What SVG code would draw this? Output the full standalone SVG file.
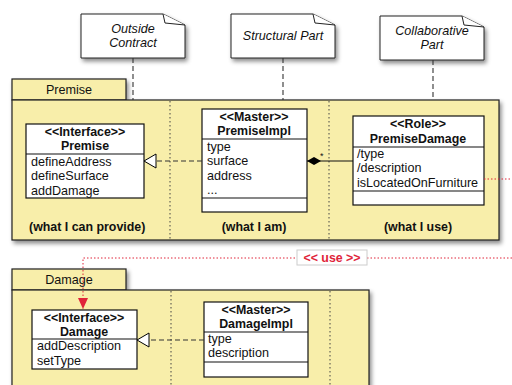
<svg xmlns="http://www.w3.org/2000/svg" width="512" height="385" viewBox="0 0 512 385">
  <defs>
    <filter id="shadow" x="-10%" y="-10%" width="125%" height="130%">
      <feDropShadow dx="2" dy="3" stdDeviation="2" flood-color="#000" flood-opacity="0.45"/>
    </filter>
    <marker id="realize" markerWidth="14" markerHeight="16" refX="13" refY="8" orient="auto" markerUnits="userSpaceOnUse">
      <path d="M1,1 L13,8 L1,15 Z" fill="#fff" stroke="#000" stroke-width="1"/>
    </marker>
    <marker id="diamond" markerWidth="16" markerHeight="10" refX="15" refY="5" orient="auto" markerUnits="userSpaceOnUse">
      <path d="M1,5 L8,1 L15,5 L8,9 Z" fill="#000"/>
    </marker>
    <marker id="redArrow" markerWidth="10" markerHeight="12" refX="5" refY="11" orient="0" markerUnits="userSpaceOnUse">
      <path d="M0,0 L10,0 L5,11 Z" fill="#e0243a"/>
    </marker>
  </defs>
  <style>
    text { font-family: "Liberation Sans", Arial, sans-serif; font-size: 12.6px; fill: #111; }
    .b { font-weight: bold; font-size: 12.4px; }
    .c { text-anchor: middle; }
    .i { font-style: italic; }
    .pkg { fill: #f8eeaa; stroke: #222; stroke-width: 1.2; }
    .box { fill: #fff; stroke: #111; stroke-width: 1.2; }
    .note { fill: #fff; stroke: #222; stroke-width: 1; }
    .div { stroke: #444; stroke-width: 1; stroke-dasharray: 1.5 2.5; fill: none; }
    .anchor { stroke: #333; stroke-width: 1.1; stroke-dasharray: 5 3; fill: none; }
    .line { stroke: #111; stroke-width: 1.2; fill: none; }
    .red { stroke: #e0243a; stroke-width: 1; stroke-dasharray: 1.5 2; fill: none; }
  </style>

  <!-- Package: Premise -->
  <g id="pkg-premise">
    <g filter="url(#shadow)">
      <rect class="pkg" x="12" y="79" width="114" height="21"/>
      <rect class="pkg" x="12" y="100" width="487" height="140"/>
    </g>
    <text class="c" x="69" y="94">Premise</text>
    <line class="div" x1="170" y1="101" x2="170" y2="239"/>
    <line class="div" x1="329" y1="101" x2="329" y2="239"/>
    <text class="b" x="29" y="231">(what I can provide)</text>
    <text class="b c" x="254" y="231">(what I am)</text>
    <text class="b c" x="418" y="231">(what I use)</text>
  </g>

  <!-- Package: Damage -->
  <g id="pkg-damage">
    <g filter="url(#shadow)">
      <rect class="pkg" x="12" y="269" width="114" height="21"/>
      <rect class="pkg" x="12" y="290" width="357" height="100"/>
    </g>
    <text class="c" x="69" y="284">Damage</text>
    <line class="div" x1="171" y1="291" x2="171" y2="385"/>
    <line class="div" x1="330" y1="291" x2="330" y2="385"/>
  </g>

  <!-- Notes -->
  <g id="note-outside">
    <path class="note" filter="url(#shadow)" d="M81,14 L163,14 L185,25 L185,58 L81,58 Z"/>
    <path class="note" d="M163,14 L165,23 L185,25"/>
    <text class="c i" x="133" y="33">Outside</text>
    <text class="c i" x="133" y="47">Contract</text>
  </g>
  <g id="note-structural">
    <path class="note" filter="url(#shadow)" d="M231,14 L313,14 L335,25 L335,58 L231,58 Z"/>
    <path class="note" d="M313,14 L315,23 L335,25"/>
    <text class="c i" x="283" y="40">Structural Part</text>
  </g>
  <g id="note-collaborative">
    <path class="note" filter="url(#shadow)" d="M380,16 L462,16 L484,27 L484,60 L380,60 Z"/>
    <path class="note" d="M462,16 L464,25 L484,27"/>
    <text class="c i" x="432" y="35">Collaborative</text>
    <text class="c i" x="432" y="49">Part</text>
  </g>

  <!-- Class: Premise interface -->
  <g id="premise">
    <rect class="box" x="26" y="124" width="118" height="74"/>
    <line class="line" x1="26" y1="154" x2="144" y2="154"/>
    <text class="b c" x="85" y="136">&lt;&lt;Interface&gt;&gt;</text>
    <text class="b c" x="85" y="150">Premise</text>
    <text x="31" y="166">defineAddress</text>
    <text x="31" y="180">defineSurface</text>
    <text x="31" y="195">addDamage</text>
  </g>

  <!-- Class: PremiseImpl -->
  <g id="premise-impl">
    <rect class="box" x="202" y="109" width="105" height="103"/>
    <line class="line" x1="202" y1="139" x2="307" y2="139"/>
    <line class="line" x1="202" y1="198" x2="307" y2="198"/>
    <text class="b c" x="254" y="121">&lt;&lt;Master&gt;&gt;</text>
    <text class="b c" x="254" y="135">PremiseImpl</text>
    <text x="207" y="151">type</text>
    <text x="207" y="165">surface</text>
    <text x="207" y="180">address</text>
    <text x="207" y="194">...</text>
  </g>

  <!-- Class: PremiseDamage -->
  <g id="premise-damage">
    <rect class="box" x="353" y="116" width="131" height="89"/>
    <line class="line" x1="353" y1="147" x2="484" y2="147"/>
    <line class="line" x1="353" y1="191" x2="484" y2="191"/>
    <text class="b c" x="418" y="128">&lt;&lt;Role&gt;&gt;</text>
    <text class="b c" x="418" y="143">PremiseDamage</text>
    <text x="357" y="158">/type</text>
    <text x="357" y="172">/description</text>
    <text x="357" y="187">isLocatedOnFurniture</text>
  </g>

  <!-- Class: Damage interface -->
  <g id="damage">
    <rect class="box" x="32" y="310" width="105" height="59"/>
    <line class="line" x1="32" y1="339" x2="137" y2="339"/>
    <text class="b c" x="84" y="322">&lt;&lt;Interface&gt;&gt;</text>
    <text class="b c" x="84" y="336">Damage</text>
    <text x="37" y="350">addDescription</text>
    <text x="37" y="365">setType</text>
  </g>

  <!-- Class: DamageImpl -->
  <g id="damage-impl">
    <rect class="box" x="204" y="302" width="104" height="75"/>
    <line class="line" x1="204" y1="332" x2="308" y2="332"/>
    <line class="line" x1="204" y1="362" x2="308" y2="362"/>
    <text class="b c" x="256" y="314">&lt;&lt;Master&gt;&gt;</text>
    <text class="b c" x="256" y="328">DamageImpl</text>
    <text x="208" y="343">type</text>
    <text x="208" y="357">description</text>
  </g>

  <!-- Connectors -->
  <g id="connectors">
    <line class="anchor" x1="133" y1="58" x2="133" y2="100"/>
    <line class="anchor" x1="283" y1="58" x2="283" y2="100"/>
    <line class="anchor" x1="433" y1="60" x2="433" y2="100"/>
    <line class="anchor" x1="202" y1="161" x2="144" y2="161" marker-end="url(#realize)"/>
    <line class="line" x1="353" y1="161" x2="307" y2="161" marker-end="url(#diamond)"/>
    <text x="320" y="159" style="font-size:9px">*</text>
    <line class="anchor" x1="204" y1="340" x2="137" y2="340" marker-end="url(#realize)"/>
    <line class="red" x1="484" y1="179" x2="512" y2="179"/>
    <path class="red" d="M512,258 L83,258 L83,309" marker-end="url(#redArrow)"/>
    <rect x="297" y="250" width="70" height="15" fill="#fff" stroke="#ccc" stroke-width="1"/>
    <text class="b c" x="332" y="262" style="fill:#e0243a">&lt;&lt; use &gt;&gt;</text>
  </g>
</svg>
